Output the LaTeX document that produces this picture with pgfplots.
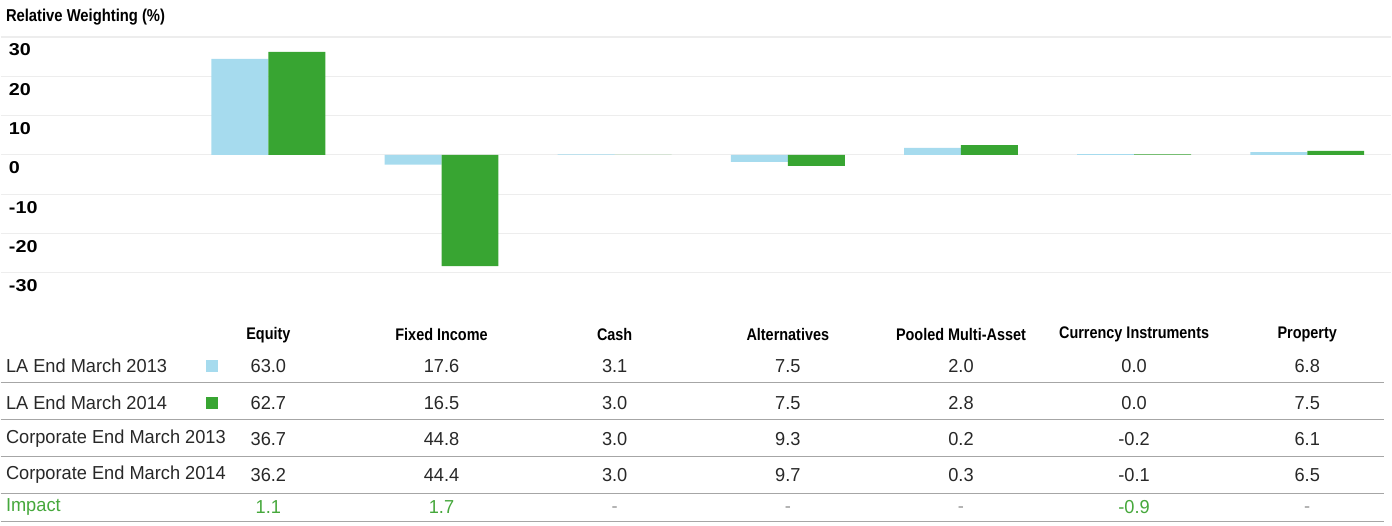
\documentclass[border=0pt]{standalone}
\usepackage{pgfplots}
\pgfplotsset{compat=1.18}
\usepackage{fontspec}
\setmainfont{Liberation Sans}
\newfontfamily\hdfont[FakeStretch=0.86]{Liberation Sans}
\newfontfamily\tkfont[FakeStretch=1.15]{Liberation Sans}
\newfontfamily\rgfont[FakeStretch=0.97]{Liberation Sans}
\definecolor{lblue}{RGB}{166,219,238}
\definecolor{dgreen}{RGB}{56,165,50}
\definecolor{igreen}{RGB}{70,168,60}
\definecolor{txt}{RGB}{40,40,40}
\newcommand\rg{\rgfont\fontsize{9.4}{11}\selectfont}
\newcommand\hd{\hdfont\bfseries\fontsize{8.4}{10}\selectfont}
\tikzset{
  tv/.style={font=\rg, text=txt, inner sep=0pt},
  hv/.style={font=\hd, text=black, inner sep=0pt},
  iv/.style={font=\rg, text=igreen, inner sep=0pt},
  dv/.style={font=\rg, text=black!40, inner sep=0pt},
  rl/.style={font=\rg, text=txt, inner sep=0pt, anchor=west},
}
\begin{document}
\begin{tikzpicture}
\begin{axis}[
  at={(0,0)}, anchor=south west,
  scale only axis, width=696pt, height=263pt,
  xmin=-1.5465, xmax=6.486, ymin=-94.33, ymax=39.41,
  axis line style={draw=none},
  xtick=\empty,
  ytick={-30,-20,-10,0,10,20,30},
  yticklabels={-30,-20,-10,0,10,20,30},
  ymajorgrids, grid style={draw=black!7, line width=0.6pt},
  major tick length=0pt,
  yticklabel style={anchor=west, xshift=4pt, yshift=-6.5pt, inner sep=0pt,
    font=\tkfont\bfseries\fontsize{8.6}{10}\selectfont, text=black},
  clip=false,
]
\addplot[ybar, bar width=0.329, bar shift=-0.1645, fill=lblue, draw=none]
  coordinates {(0,24.4) (1,-2.5) (2,0.1) (3,-1.8) (4,1.8) (5,0.2) (6,0.7)};
\addplot[ybar, bar width=0.329, bar shift=0.1645, fill=dgreen, draw=none]
  coordinates {(0,26.2) (1,-28.3) (2,0.0) (3,-2.8) (4,2.5) (5,0.1) (6,1.0)};

% title
\node[anchor=west, inner sep=0pt, font=\hdfont\bfseries\fontsize{8.6}{10}\selectfont] at (axis cs:-1.5176,35.09) {Relative Weighting (\%)};

% header
\node[hv] at (axis cs:0,-45.77) {Equity};
\node[hv] at (axis cs:1,-45.77) {Fixed Income};
\node[hv] at (axis cs:2,-45.77) {Cash};
\node[hv] at (axis cs:3,-45.77) {Alternatives};
\node[hv] at (axis cs:4,-45.77) {Pooled Multi-Asset};
\node[hv] at (axis cs:5,-45.77) {Currency Instruments};
\node[hv] at (axis cs:6,-45.77) {Property};

% row labels
\node[rl] at (axis cs:-1.5176,-53.65) {LA End March 2013};
\node[rl] at (axis cs:-1.5176,-63.06) {LA End March 2014};
\node[rl] at (axis cs:-1.5176,-72.21) {Corporate End March 2013};
\node[rl] at (axis cs:-1.5176,-81.36) {Corporate End March 2014};
\node[rl, text=igreen] at (axis cs:-1.5176,-89.50) {Impact};

% legend squares
\node[fill=lblue, minimum size=6pt, inner sep=0pt] at (axis cs:-0.326,-53.65) {};
\node[fill=dgreen, minimum size=6pt, inner sep=0pt] at (axis cs:-0.326,-63.06) {};

% row 1
\node[tv] at (axis cs:0,-53.65) {63.0};
\node[tv] at (axis cs:1,-53.65) {17.6};
\node[tv] at (axis cs:2,-53.65) {3.1};
\node[tv] at (axis cs:3,-53.65) {7.5};
\node[tv] at (axis cs:4,-53.65) {2.0};
\node[tv] at (axis cs:5,-53.65) {0.0};
\node[tv] at (axis cs:6,-53.65) {6.8};
% row 2
\node[tv] at (axis cs:0,-63.06) {62.7};
\node[tv] at (axis cs:1,-63.06) {16.5};
\node[tv] at (axis cs:2,-63.06) {3.0};
\node[tv] at (axis cs:3,-63.06) {7.5};
\node[tv] at (axis cs:4,-63.06) {2.8};
\node[tv] at (axis cs:5,-63.06) {0.0};
\node[tv] at (axis cs:6,-63.06) {7.5};
% row 3
\node[tv] at (axis cs:0,-72.21) {36.7};
\node[tv] at (axis cs:1,-72.21) {44.8};
\node[tv] at (axis cs:2,-72.21) {3.0};
\node[tv] at (axis cs:3,-72.21) {9.3};
\node[tv] at (axis cs:4,-72.21) {0.2};
\node[tv] at (axis cs:5,-72.21) {-0.2};
\node[tv] at (axis cs:6,-72.21) {6.1};
% row 4
\node[tv] at (axis cs:0,-81.36) {36.2};
\node[tv] at (axis cs:1,-81.36) {44.4};
\node[tv] at (axis cs:2,-81.36) {3.0};
\node[tv] at (axis cs:3,-81.36) {9.7};
\node[tv] at (axis cs:4,-81.36) {0.3};
\node[tv] at (axis cs:5,-81.36) {-0.1};
\node[tv] at (axis cs:6,-81.36) {6.5};
% impact
\node[iv] at (axis cs:0,-89.50) {1.1};
\node[iv] at (axis cs:1,-89.50) {1.7};
\node[dv] at (axis cs:2,-90.3) {-};
\node[dv] at (axis cs:3,-90.3) {-};
\node[dv] at (axis cs:4,-90.3) {-};
\node[iv] at (axis cs:5,-89.50) {-0.9};
\node[dv] at (axis cs:6,-90.3) {-};

% separators
\draw[black!35, line width=0.6pt] (axis cs:-1.5465,-57.97) -- (axis cs:6.445,-57.97);
\draw[black!35, line width=0.6pt] (axis cs:-1.5465,-67.38) -- (axis cs:6.445,-67.38);
\draw[black!35, line width=0.6pt] (axis cs:-1.5465,-76.79) -- (axis cs:6.445,-76.79);
\draw[black!35, line width=0.6pt] (axis cs:-1.5465,-86.19) -- (axis cs:6.445,-86.19);
\draw[black!35, line width=0.6pt] (axis cs:-1.5465,-93.31) -- (axis cs:6.445,-93.31);
\end{axis}
\end{tikzpicture}
\end{document}
